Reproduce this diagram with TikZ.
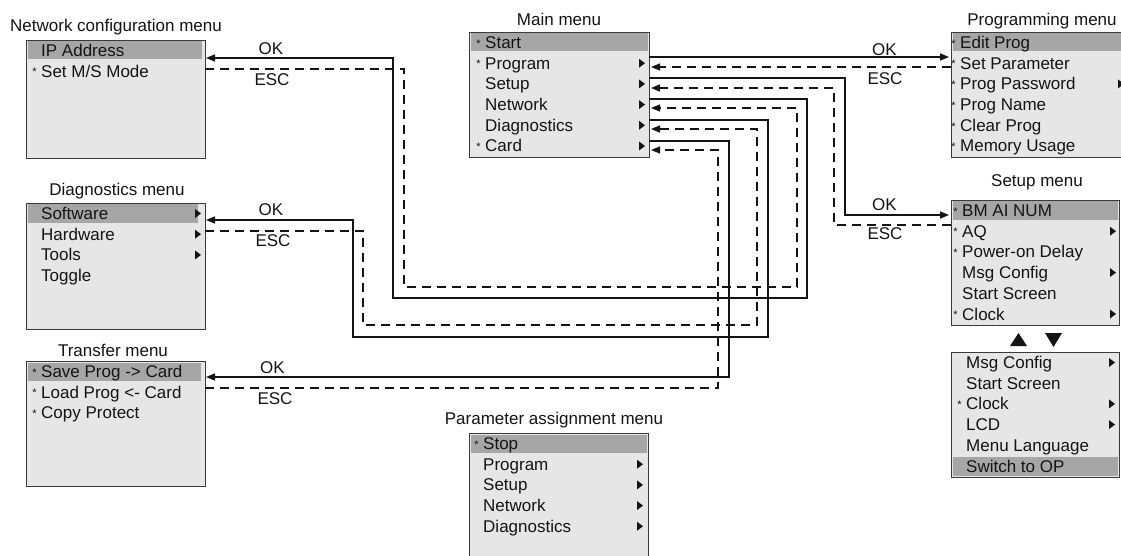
\documentclass[tikz,border=0pt]{standalone}
\usepackage{fontspec}
\setmainfont{Liberation Sans}
\usetikzlibrary{arrows.meta}
\definecolor{boxfill}{HTML}{E6E6E6}
\definecolor{hlfill}{HTML}{A6A6A6}
\definecolor{edge}{HTML}{3A3A3A}
\definecolor{ink}{HTML}{141414}
\tikzset{
  menubox/.style={draw=edge, line width=1.4pt, fill=boxfill, rectangle, inner sep=0pt, anchor=north west},
  itemtext/.style={anchor=base west, inner sep=0pt, text=ink, font=\fontsize{17}{17}\selectfont},
  titletext/.style={anchor=base, inner sep=0pt, text=ink, font=\fontsize{17}{17}\selectfont},
  lbl/.style={anchor=center, inner sep=0pt, text=ink, font=\fontsize{17}{17}\selectfont},
  bulletmark/.style={inner sep=0pt, text=ink, font=\fontsize{11}{11}\selectfont},
  okline/.style={draw=ink, line width=1.4pt, -{Triangle[length=9pt,width=7pt]}},
  escline/.style={draw=ink, line width=1.2pt, dash pattern=on 9pt off 6pt, -{Triangle[length=9pt,width=7pt]}},
  hl/.style={fill=hlfill},
  subtri/.style={fill=ink},
}
% #1 name prefix, #2 text x, #3 box top y, #4 triangle x, #5 list bullet/arrow/text
\newcommand\menuitems[5]{%
  \foreach \b/\a/\t [count=\i] in {#5} {
    \pgfmathsetmacro\yc{#3+10.5+20.7*(\i-1)}
    \node[itemtext] (#1-\i) at (#2,\yc+6) {\t};
    \ifnum\b=1 \node[bulletmark] (#1-s\i) at (#2-6.5,\yc+1) {*};\fi
    \ifnum\a=1 \fill[subtri] (#4-6,\yc-4.5) -- (#4,\yc) -- (#4-6,\yc+4.5) -- cycle;\fi
  }%
}
\begin{document}
\begin{tikzpicture}[x=1pt,y=-1pt]
\useasboundingbox (0,0) rectangle (1121,556);
\clip (0,0) rectangle (1121,556);
\fill[white] (0,0) rectangle (1121,556);

% ---------- boxes ----------
\node[menubox, minimum width=179pt, minimum height=118pt] (netconf) at (26,40) {};
\fill[hl] (27.5,41.5) rectangle (202,59.5);
\menuitems{nc}{41}{40}{200}{0/0/IP Address, 1/0/{Set M/S Mode}}

\node[menubox, minimum width=179pt, minimum height=126pt] (diag) at (26,203) {};
\fill[hl] (27.5,204.5) rectangle (198,222.5);
\menuitems{dg}{41}{203}{201}{0/1/Software, 0/1/Hardware, 0/1/Tools, 0/0/Toggle}

\node[menubox, minimum width=179pt, minimum height=125pt] (transfer) at (26,361) {};
\fill[hl] (27.5,362.5) rectangle (201,380.5);
\menuitems{tr}{41}{361}{201}{1/0/Save Prog -> Card, 1/0/Load Prog <- Card, 1/0/Copy Protect}

\node[menubox, minimum width=180pt, minimum height=125pt] (main) at (469,32) {};
\fill[hl] (470.5,33.5) rectangle (647.5,51.5);
\menuitems{mm}{485}{32}{645}{1/0/Start, 1/1/Program, 0/1/Setup, 0/1/Network, 0/1/Diagnostics, 1/1/Card}

\node[menubox, minimum width=179pt, minimum height=140pt] (param) at (469,433) {};
\fill[hl] (470.5,434.5) rectangle (646.5,452.5);
\menuitems{pa}{483}{433}{643}{1/0/Stop, 0/1/Program, 0/1/Setup, 0/1/Network, 0/1/Diagnostics}

\node[menubox, minimum width=180pt, minimum height=125pt] (prog) at (951,32) {};
\fill[hl] (952.5,33.5) rectangle (1135,51.5);
\menuitems{pg}{960}{32}{1124}{1/0/Edit Prog, 1/0/Set Parameter, 1/1/Prog Password, 1/0/Prog Name, 1/0/Clear Prog, 1/0/Memory Usage}

\node[menubox, minimum width=168pt, minimum height=125pt] (setup) at (951,200) {};
\fill[hl] (952.5,201.5) rectangle (1117.5,219.5);
\menuitems{su}{962}{200}{1116}{1/0/BM AI NUM, 1/1/AQ, 1/0/Power-on Delay, 0/1/Msg Config, 0/0/Start Screen, 1/1/Clock}

\node[menubox, minimum width=168pt, minimum height=125pt] (setupb) at (951,352) {};
\fill[hl] (952.5,457) rectangle (1117.5,475.5);
\menuitems{sb}{966}{352}{1115}{0/1/Msg Config, 0/0/Start Screen, 1/1/Clock, 0/1/LCD, 0/0/Menu Language, 0/0/Switch to OP}

% scroll marks
\fill[ink] (1010,346) -- (1018.5,333) -- (1027,346) -- cycle;
\fill[ink] (1045,333) -- (1062,333) -- (1053.5,347) -- cycle;

% ---------- titles ----------
\node[titletext] (t-nc) at (116,31.5) {Network configuration menu};
\node[titletext] (t-mm) at (559,26) {Main menu};
\node[titletext] (t-pg) at (1042,26) {Programming menu};
\node[titletext] (t-su) at (1037,187) {Setup menu};
\node[titletext] (t-dg) at (117,196) {Diagnostics menu};
\node[titletext] (t-tr) at (113,356) {Transfer menu};
\node[titletext] (t-pa) at (554,424) {Parameter assignment menu};

% ---------- connection points ----------
\coordinate (mm-p-out) at (649,57);
\coordinate (mm-p-in)  at (651,67);
\coordinate (mm-s-out) at (649,78);
\coordinate (mm-s-in)  at (651,88);
\coordinate (mm-n-out) at (649,99);
\coordinate (mm-n-in)  at (651,108);
\coordinate (mm-d-out) at (649,120);
\coordinate (mm-d-in)  at (651,129);
\coordinate (mm-c-out) at (649,141);
\coordinate (mm-c-in)  at (651,150);
\coordinate (pg-in)  at (949,57);
\coordinate (pg-esc) at (951,67);
\coordinate (su-in)  at (949,215);
\coordinate (su-esc) at (951,225);
\coordinate (nc-in)  at (206,58);
\coordinate (nc-esc) at (205,69);
\coordinate (dg-in)  at (206,220);
\coordinate (dg-esc) at (205,231);
\coordinate (tr-in)  at (206,377);
\coordinate (tr-esc) at (205,388);

% ---------- connectors ----------
% Program
\draw[okline] (mm-p-out) -- (pg-in);
\draw[escline] (pg-esc) -- (mm-p-in);
% Setup
\draw[okline] (mm-s-out) -- ++(196,0) |- (su-in);
\draw[escline] (su-esc) -- ++(-117,0) |- (mm-s-in);
% Network
\draw[okline] (mm-n-out) -- ++(158,0) -- ++(0,199) -- ++(-414,0) |- (nc-in);
\draw[escline] (nc-esc) -- ++(199,0) -- ++(0,218) -- ++(393,0) |- (mm-n-in);
% Diagnostics
\draw[okline] (mm-d-out) -- ++(119,0) -- ++(0,217) -- ++(-415,0) |- (dg-in);
\draw[escline] (dg-esc) -- ++(158,0) -- ++(0,94) -- ++(394,0) |- (mm-d-in);
% Card
\draw[okline] (mm-c-out) -- ++(80,0) |- (tr-in);
\draw[escline] (tr-esc) -- ++(513,0) |- (mm-c-in);

% ---------- labels ----------
\node[lbl] (l-pg-ok)  at (884.5,49.5) {OK};
\node[lbl] (l-pg-esc) at (885,78.3) {ESC};
\node[lbl] (l-su-ok)  at (884.5,205) {OK};
\node[lbl] (l-su-esc) at (885,234) {ESC};
\node[lbl] (l-nc-ok)  at (271,49) {OK};
\node[lbl] (l-nc-esc) at (272,80) {ESC};
\node[lbl] (l-dg-ok)  at (271,210) {OK};
\node[lbl] (l-dg-esc) at (273,241) {ESC};
\node[lbl] (l-tr-ok)  at (272.5,367.5) {OK};
\node[lbl] (l-tr-esc) at (275,398.5) {ESC};
\end{tikzpicture}
\end{document}
